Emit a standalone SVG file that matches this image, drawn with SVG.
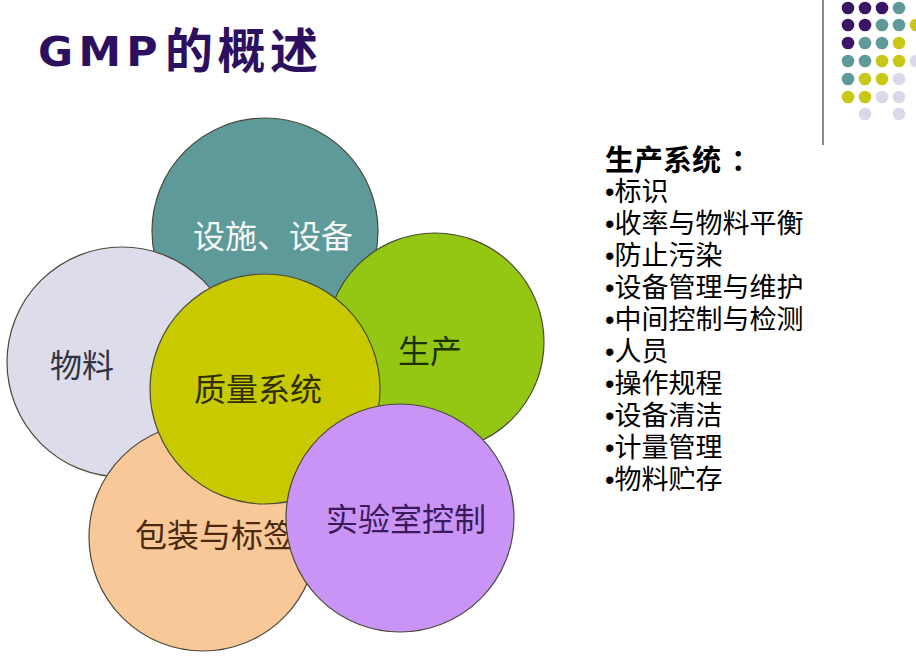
<svg xmlns="http://www.w3.org/2000/svg" width="916" height="658" viewBox="0 0 916 658">
<style>
.c{stroke:#4a4a3a;stroke-width:1.2}
.lbl{font-family:"Noto Sans CJK SC","Noto Sans CJK JP",sans-serif;font-size:32px;text-anchor:middle}
.li{font-family:"Liberation Sans","Noto Sans CJK SC",sans-serif;font-size:27px;fill:#000}
.dP{fill:#3a1465}.dT{fill:#5f9a9a}.dY{fill:#c8c818}.dL{fill:#d9d9ea}
</style>
<rect width="916" height="658" fill="#ffffff"/>
<g id="decor">
<line x1="823" y1="0" x2="823" y2="145" stroke="#8a8a8a" stroke-width="2"/>
<circle class="dP" cx="848" cy="8" r="6.3"/><circle class="dP" cx="865" cy="8" r="6.3"/><circle class="dP" cx="882" cy="8" r="6.3"/><circle class="dT" cx="899" cy="8" r="6.3"/>
<circle class="dP" cx="848" cy="25" r="6.3"/><circle class="dP" cx="865" cy="25" r="6.3"/><circle class="dT" cx="882" cy="25" r="6.3"/><circle class="dT" cx="899" cy="25" r="6.3"/><circle class="dY" cx="916" cy="25" r="6.3"/>
<circle class="dP" cx="848" cy="43" r="6.3"/><circle class="dT" cx="865" cy="43" r="6.3"/><circle class="dT" cx="882" cy="43" r="6.3"/><circle class="dY" cx="899" cy="43" r="6.3"/>
<circle class="dT" cx="848" cy="61" r="6.3"/><circle class="dT" cx="865" cy="61" r="6.3"/><circle class="dY" cx="882" cy="61" r="6.3"/><circle class="dY" cx="899" cy="61" r="6.3"/><circle class="dL" cx="916" cy="61" r="6.3"/>
<circle class="dT" cx="848" cy="79" r="6.3"/><circle class="dY" cx="865" cy="79" r="6.3"/><circle class="dY" cx="882" cy="79" r="6.3"/><circle class="dL" cx="899" cy="79" r="6.3"/>
<circle class="dY" cx="848" cy="97" r="6.3"/><circle class="dY" cx="865" cy="97" r="6.3"/><circle class="dL" cx="882" cy="97" r="6.3"/><circle class="dL" cx="899" cy="97" r="6.3"/>
<circle class="dL" cx="865" cy="114" r="6.3"/><circle class="dL" cx="899" cy="114" r="6.3"/>
</g>
<g id="title" fill="#2d0f5f" font-weight="bold">
<text x="38" y="66" textLength="125" lengthAdjust="spacingAndGlyphs" letter-spacing="5" font-family="DejaVu Sans, Liberation Sans, sans-serif" font-size="40">GMP</text>
<text x="165" y="68" textLength="153" lengthAdjust="spacing" font-family="Noto Sans CJK SC, sans-serif" font-size="48">的概述</text>
</g>
<g id="n-facilities">
<circle class="c" cx="265" cy="231" r="113" fill="#5f9a9a"/>
<text class="lbl" x="273" y="248" fill="#f6f6f6">设施、设备</text>
</g>
<g id="n-material">
<circle class="c" cx="122" cy="362" r="115" fill="#dcdcea"/>
<text class="lbl" x="82" y="377" fill="#333340">物料</text>
</g>
<g id="n-production">
<circle class="c" cx="435" cy="342" r="109" fill="#94c714"/>
<text class="lbl" x="430" y="363" fill="#1e3000">生产</text>
</g>
<g id="n-packaging">
<circle class="c" cx="203" cy="537" r="114" fill="#f9c898"/>
<text class="lbl" x="215" y="547" fill="#4a2a10">包装与标签</text>
</g>
<g id="n-quality">
<circle class="c" cx="265" cy="389" r="115" fill="#c9c900"/>
<text class="lbl" x="258" y="401" fill="#2e2e00">质量系统</text>
</g>
<g id="n-lab">
<circle class="c" cx="400" cy="518" r="114" fill="#c994f5"/>
<text class="lbl" x="406" y="531" fill="#3a1a5a">实验室控制</text>
</g>
<g id="production-list">
<text y="171" font-family="Noto Sans CJK SC, sans-serif" font-size="29" font-weight="bold" fill="#000"><tspan x="605">生产系统</tspan><tspan x="731">：</tspan></text>
<text class="li" x="605" y="201">•标识</text>
<text class="li" x="605" y="233">•收率与物料平衡</text>
<text class="li" x="605" y="265">•防止污染</text>
<text class="li" x="605" y="297">•设备管理与维护</text>
<text class="li" x="605" y="329">•中间控制与检测</text>
<text class="li" x="605" y="361">•人员</text>
<text class="li" x="605" y="393">•操作规程</text>
<text class="li" x="605" y="425">•设备清洁</text>
<text class="li" x="605" y="457">•计量管理</text>
<text class="li" x="605" y="489">•物料贮存</text>
</g>
</svg>
